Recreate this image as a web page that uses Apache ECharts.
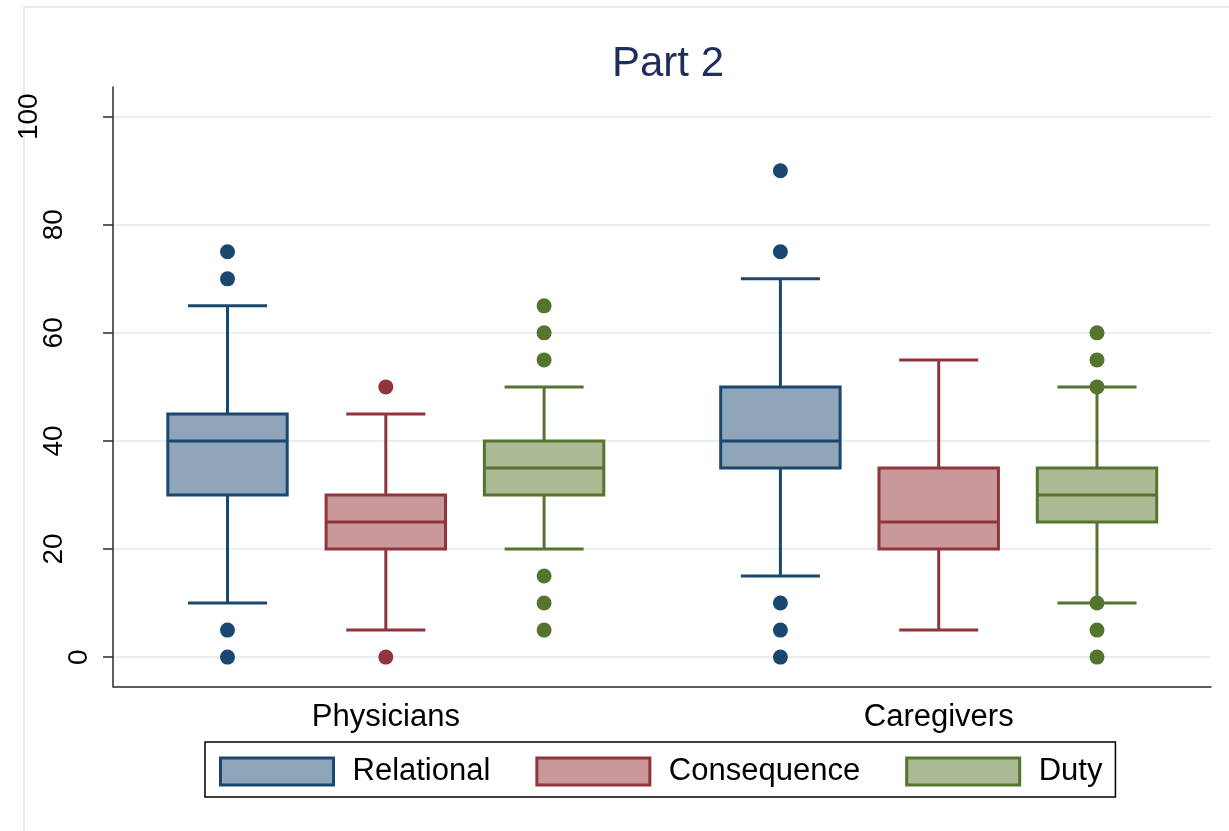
<!DOCTYPE html>
<html>
<head>
<meta charset="utf-8">
<script src="https://cdn.jsdelivr.net/npm/echarts@6/dist/echarts.min.js"></script>
<style>
  html, body { margin: 0; padding: 0; background: #ffffff; }
  #chart { width: 1229px; height: 831px; }
</style>
</head>
<body>
<div id="chart"></div>
<script>
// Groups along the x axis and the three measures drawn in each group
const groups = ['Physicians', 'Caregivers'];
const measures = ['Relational', 'Consequence', 'Duty'];

// Per group: [lower whisker, Q1, median, Q3, upper whisker]
const relational = [[10, 30, 40, 45, 65], [15, 35, 40, 50, 70]];
const consequence = [[5, 20, 25, 30, 45], [5, 20, 25, 35, 55]];
const duty = [[20, 30, 35, 40, 50], [10, 25, 30, 35, 50]];

// Outlying values per group
const relationalOutliers = [[75, 70, 5, 0], [90, 75, 10, 5, 0]];
const consequenceOutliers = [[50, 0], []];
const dutyOutliers = [[65, 60, 55, 15, 10, 5], [60, 55, 50, 10, 5, 0]];

const yTicks = [0, 20, 40, 60, 80, 100];

const boxStats = [relational, consequence, duty];
const outlierStats = [relationalOutliers, consequenceOutliers, dutyOutliers];

const strokeColors = ['#1a476f', '#90353b', '#55752f'];
const fillColors = ['#8fa5ba', '#c8989b', '#abba95'];
const FONT = '"Liberation Sans", Arial, Helvetica, sans-serif';

// Box geometry in x-axis units (one unit = distance between group centres)
const BOX_OFFSET = 0.2863;
const BOX_WIDTH = 0.216;
const CAP_WIDTH = 0.143;

function boxRenderer(k) {
  return function (params, api) {
    const x = api.value(0);
    const lo = api.coord([x, api.value(1)]);
    const q1 = api.coord([x, api.value(2)]);
    const md = api.coord([x, api.value(3)]);
    const q3 = api.coord([x, api.value(4)]);
    const hi = api.coord([x, api.value(5)]);
    const halfBox = api.size([BOX_WIDTH, 0])[0] / 2;
    const halfCap = api.size([CAP_WIDTH, 0])[0] / 2;
    const line = { stroke: strokeColors[k], lineWidth: 3, fill: null };
    return {
      type: 'group',
      children: [
        { type: 'line', shape: { x1: hi[0], y1: hi[1], x2: q3[0], y2: q3[1] }, style: line },
        { type: 'line', shape: { x1: q1[0], y1: q1[1], x2: lo[0], y2: lo[1] }, style: line },
        { type: 'line', shape: { x1: hi[0] - halfCap, y1: hi[1], x2: hi[0] + halfCap, y2: hi[1] }, style: line },
        { type: 'line', shape: { x1: lo[0] - halfCap, y1: lo[1], x2: lo[0] + halfCap, y2: lo[1] }, style: line },
        {
          type: 'rect',
          shape: { x: q3[0] - halfBox, y: q3[1], width: halfBox * 2, height: q1[1] - q3[1] },
          style: { fill: fillColors[k], stroke: strokeColors[k], lineWidth: 3 }
        },
        { type: 'line', shape: { x1: md[0] - halfBox, y1: md[1], x2: md[0] + halfBox, y2: md[1] }, style: line }
      ]
    };
  };
}

const series = [];
measures.forEach(function (name, k) {
  const shift = (k - 1) * BOX_OFFSET;
  series.push({
    name: name,
    type: 'custom',
    renderItem: boxRenderer(k),
    encode: { x: 0, y: [1, 2, 3, 4, 5] },
    itemStyle: { color: fillColors[k], borderColor: strokeColors[k] },
    z: 3,
    silent: true,
    data: boxStats[k].map(function (v, i) { return [i + shift].concat(v); })
  });
  const pts = [];
  outlierStats[k].forEach(function (vals, i) {
    vals.forEach(function (v) { pts.push([i + shift, v]); });
  });
  series.push({
    name: name,
    type: 'scatter',
    symbol: 'circle',
    symbolSize: 15,
    itemStyle: { color: strokeColors[k], opacity: 1 },
    z: 4,
    silent: true,
    data: pts
  });
});

// Stata-style rotated tick labels: longer labels sit further from the axis
function yLabel(value) {
  const s = String(value);
  const tag = s.length === 1 ? 'a' : (s.length === 2 ? 'b' : 'c');
  return '{' + tag + '|' + s + '}';
}

const labelRich = {
  a: { fontSize: 28, fontFamily: FONT, color: '#000', padding: [0, 0, 0, 0] },
  b: { fontSize: 28, fontFamily: FONT, color: '#000', padding: [0, 0, 25, 0] },
  c: { fontSize: 28, fontFamily: FONT, color: '#000', padding: [0, 0, 50, 0] }
};

const option = {
  backgroundColor: '#ffffff',
  animation: false,
  title: {
    text: 'Part 2',
    left: 663,
    top: 38,
    textAlign: 'center',
    textStyle: { fontSize: 42, fontWeight: 'normal', color: '#1f2d5c', fontFamily: FONT }
  },
  graphic: [{
    type: 'rect',
    silent: true,
    z: -10,
    shape: { x: 24, y: 7, width: 1400, height: 1000 },
    style: { fill: null, stroke: '#e4ecf0', lineWidth: 2 }
  }],
  grid: {
    left: 113, right: 18, top: 87, bottom: 144.5,
    containLabel: false,
    outerBoundsMode: 'none'
  },
  xAxis: {
    type: 'value',
    min: -0.4934,
    max: 1.4925,
    axisLine: { show: true, onZero: false, lineStyle: { color: '#2a2a2a', width: 1.5 } },
    axisTick: { show: false },
    splitLine: { show: false },
    axisLabel: {
      customValues: [0, 1],
      formatter: function (v) { return groups[Math.round(v)] || ''; },
      fontSize: 31, fontFamily: FONT, color: '#000', margin: 15
    }
  },
  yAxis: {
    type: 'value',
    min: -5.44,
    max: 105.5,
    axisLine: { show: true, onZero: false, lineStyle: { color: '#2a2a2a', width: 1.5 } },
    axisTick: { show: true, customValues: yTicks, length: 10, lineStyle: { color: '#2a2a2a', width: 1.5 } },
    splitLine: { show: true, lineStyle: { color: '#e6eff2', width: 2 } },
    axisLabel: {
      customValues: yTicks,
      rotate: 90,
      margin: 20,
      formatter: yLabel,
      rich: labelRich
    }
  },
  legend: {
    left: 205,
    top: 742,
    padding: [14, 13, 10, 14],
    borderColor: '#000',
    borderWidth: 1.5,
    itemWidth: 113,
    itemHeight: 27,
    itemGap: 45,
    selectedMode: false,
    textStyle: { fontSize: 31, color: '#000', fontFamily: FONT, padding: [0, 0, 0, 14] },
    data: measures.map(function (m, k) {
      return {
        name: m,
        icon: 'rect',
        itemStyle: { color: fillColors[k], borderColor: strokeColors[k], borderWidth: 3 }
      };
    })
  },
  series: series
};

const chart = echarts.init(document.getElementById('chart'), null, { renderer: 'canvas' });
chart.setOption(option);
</script>
</body>
</html>
